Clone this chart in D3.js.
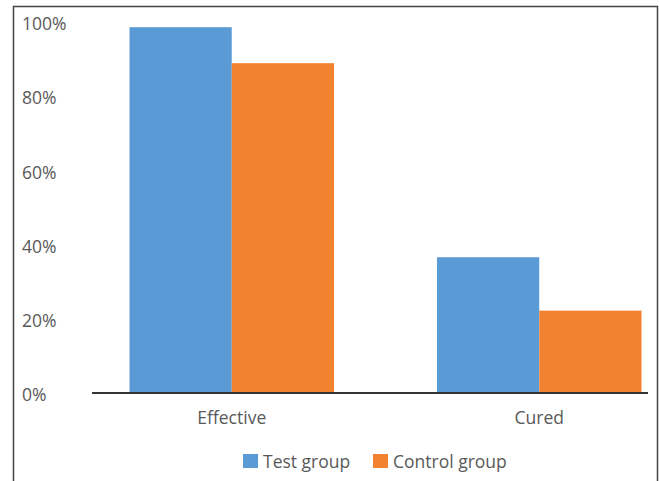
<!DOCTYPE html>
<html><head><meta charset="utf-8">
<script src="https://cdn.jsdelivr.net/npm/d3@7"></script>
<style>html,body{margin:0;padding:0;background:#fff;}svg{display:block;font-family:"Open Sans",sans-serif;}</style>
</head><body><svg id="c" width="659" height="481"></svg>
<script>
const categories = ["Effective", "Cured"];
const seriesNames = ["Test group", "Control group"];
const testValues = [0.986, 0.366];
const controlValues = [0.889, 0.222];
const yTicks = [0, 0.2, 0.4, 0.6, 0.8, 1.0];
const colors = ["#5b9bd5", "#f28130"];

const svg = d3.select("#c");
// frame
svg.append("path").attr("d","M13.5,481 V6.5 H657.5 V481").attr("fill","none").attr("stroke","#444").attr("stroke-width",1.5);

const y = d3.scaleLinear().domain([0,1]).range([393,22]);
const x = d3.scaleBand().domain(categories).range([78,693]).paddingInner(0.335).paddingOuter(0.1675);
const xs = d3.scaleBand().domain(seriesNames).range([0, x.bandwidth()]);

const data = categories.map((c,i)=>({cat:c, vals:[testValues[i], controlValues[i]]}));
const g = svg.append("g");
data.forEach(d=>{
  d.vals.forEach((v,j)=>{
    g.append("rect").attr("x", x(d.cat)+xs(seriesNames[j])).attr("width", xs.bandwidth())
      .attr("y", y(v)).attr("height", y(0)-y(v)).attr("fill", colors[j]);
  });
});

// y labels
svg.append("g").selectAll("text").data(yTicks).join("text")
  .attr("x",22).attr("y",d=>y(d)+2).attr("dy","0.35em")
  .attr("font-size",17.5).attr("fill","#595959").text(d3.format(".0%"));

// x axis line
svg.append("line").attr("x1",92).attr("x2",648).attr("y1",393).attr("y2",393).attr("stroke","#333").attr("stroke-width",1.8);

svg.append("g").selectAll("text").data(categories).join("text")
  .attr("x",d=>x(d)+x.bandwidth()/2).attr("y",424).attr("text-anchor","middle")
  .attr("font-size",17.5).attr("fill","#595959").text(d=>d);

// legend
const legX = [243, 373];
const lg = svg.append("g");
seriesNames.forEach((s,i)=>{
  lg.append("rect").attr("x",legX[i]).attr("y",454).attr("width",15).attr("height",14).attr("fill",colors[i]);
  lg.append("text").attr("x",legX[i]+20).attr("y",467.5).attr("font-size",17.5).attr("fill","#595959").text(s);
});
</script></body></html>
